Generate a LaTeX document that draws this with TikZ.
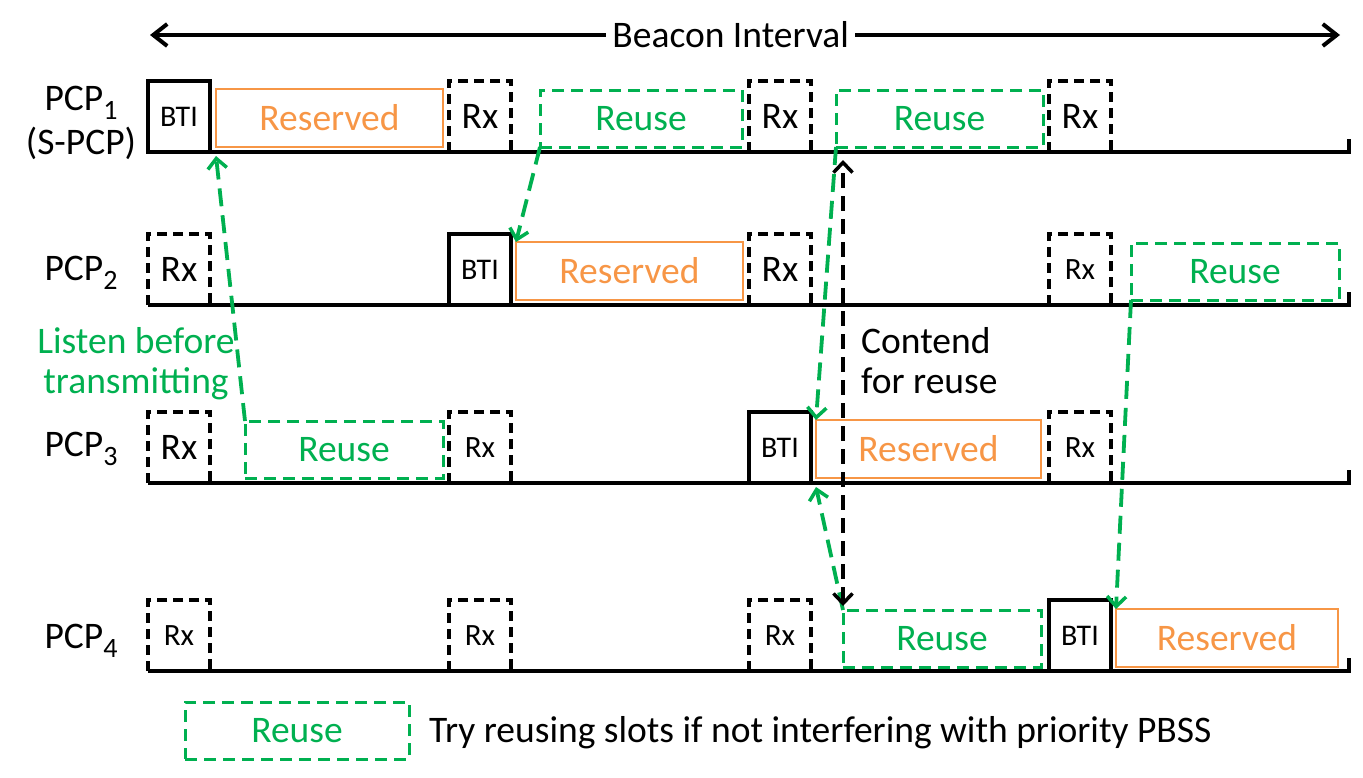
\documentclass[tikz,border=0pt]{standalone}
\usepackage{fontspec}
\setmainfont{Carlito}
\usepackage{xcolor}
\usepackage{tikz}
\usetikzlibrary{arrows.meta,positioning,calc}

\definecolor{reusegreen}{RGB}{0,176,80}
\definecolor{resorange}{RGB}{247,150,70}
\newcommand{\pcpsub}[1]{\raisebox{-9pt}{\fontsize{28}{28}\selectfont #1}}

\begin{document}
\begin{tikzpicture}[x=1pt, y=-1pt, font=\fontsize{37.5}{40}\selectfont,
  slot/.style={anchor=south west, inner sep=0pt, outer sep=0pt, minimum width=62pt, minimum height=71pt, line width=3.5pt},
  bti/.style={slot, draw, font=\fontsize{30}{32}\selectfont},
  rx/.style={slot, draw, dash pattern=on 10pt off 6pt},
  rxs/.style={rx, font=\fontsize{31}{32}\selectfont},
  resv/.style={anchor=south west, inner sep=0pt, outer sep=0pt, minimum height=58pt, minimum width=227pt, draw=resorange, text=resorange, line width=2.8pt},
  reuse/.style={anchor=south west, inner sep=0pt, outer sep=0pt, minimum height=57pt, draw=reusegreen, text=reusegreen, line width=3pt, dash pattern=on 12pt off 7pt},
  lbt/.style={reusegreen, line width=3.8pt, dash pattern=on 18pt off 9pt, -{Straight Barb[length=10pt,width=19pt,line width=3.5pt]}},
  ctd/.style={line width=3.8pt, dash pattern=on 15pt off 8pt, {Straight Barb[length=10pt,width=19pt,line width=3.5pt]}-{Straight Barb[length=10pt,width=19pt,line width=3.5pt]}}]
  \useasboundingbox (0,0) rectangle (1363,777);

  % beacon interval
  \coordinate (bil) at (150,35);
  \coordinate (bir) at (1340,35);
  \draw[line width=4pt, {Straight Barb[length=14pt,width=22pt]}-{Straight Barb[length=14pt,width=22pt]}] (bil) -- (bir)
    node[pos=0.488, fill=white, inner sep=6pt] (bi) {Beacon Interval};

  % time lines
  \foreach \y in {152,305,483,671}
    \draw[line width=4pt] (148,\y) -- (1349,\y) -- (1349,\y-13);

  % labels
  \node[align=center, font=\fontsize{37.5}{44}\selectfont] (pcp1) at (81,123) {PCP\pcpsub{1}\\(S-PCP)};
  \node[anchor=base] (pcp2) at (81,280) {PCP\pcpsub{2}};
  \node[anchor=base] (pcp3) at (81,456) {PCP\pcpsub{3}};
  \node[anchor=base] (pcp4) at (81,648) {PCP\pcpsub{4}};

  % PCP1
  \node[bti] (p1a) at (148,152) {BTI};
  \node[resv] (r1res) at (216,147) {Reserved};
  \node[rx] (p1b) at (449,152) {Rx};
  \node[reuse, minimum width=202pt] (r1reu) at (540,147) {Reuse};
  \node[rx] (p1c) at (749,152) {Rx};
  \node[reuse, minimum width=207pt] (r1reub) at (836,147) {Reuse};
  \node[rx] (p1d) at (1049,152) {Rx};

  % PCP2
  \node[rx] (p2a) at (148,305) {Rx};
  \node[bti] (p2b) at (449,305) {BTI};
  \node[resv] (r2res) at (516,300) {Reserved};
  \node[rx] (p2c) at (749,305) {Rx};
  \node[rxs] (p2d) at (1049,305) {Rx};
  \node[reuse, minimum width=208pt] (r2reu) at (1131,300) {Reuse};

  % PCP3
  \node[rx] (p3a) at (148,483) {Rx};
  \node[reuse, minimum width=198pt] (r3reu) at (245,478) {Reuse};
  \node[rxs] (p3b) at (449,483) {Rx};
  \node[bti] (p3c) at (749,483) {BTI};
  \node[resv, minimum width=225pt] (r3res) at (816,478) {Reserved};
  \node[rxs] (p3d) at (1049,483) {Rx};

  % PCP4
  \node[rxs] (p4a) at (148,671) {Rx};
  \node[rxs] (p4b) at (449,671) {Rx};
  \node[rxs] (p4c) at (749,671) {Rx};
  \node[reuse, minimum width=198pt] (r4reu) at (843,667) {Reuse};
  \node[bti] (p4d) at (1049,671) {BTI};
  \node[resv, minimum width=222pt] (r4res) at (1116,667) {Reserved};

  % notes
  \node[align=center, text=reusegreen] (lbtxt) at (136,364) {Listen before\\transmitting};
  \node[align=left, anchor=west, inner sep=0pt] (ctxt) at (861,361) {Contend\\for reuse};

  % listen / reuse arrows
  \draw[lbt] (r3reu.north west) -- ([yshift=-9pt]r1res.south west);
  \draw[lbt] (r1reu.south west) -- (r2res.north west);
  \draw[lbt] (r1reub.south west) -- (r3res.north west);
  \draw[lbt] (r4reu.north west) -- ([yshift=-9pt]r3res.south west);
  \draw[lbt] (r2reu.south west) -- (r4res.north west);
  \draw[ctd] ([yshift=4pt]r4reu.north west) -- ([yshift=-8pt]r4reu.north west |- p1c.south);

  % legend
  \node[reuse, minimum width=224pt] (lgreu) at (185,759) {Reuse};
  \node[right=20pt of lgreu, inner sep=0pt, yshift=-2pt] (lgtxt) {Try reusing slots if not interfering with priority PBSS};
\end{tikzpicture}
\end{document}
